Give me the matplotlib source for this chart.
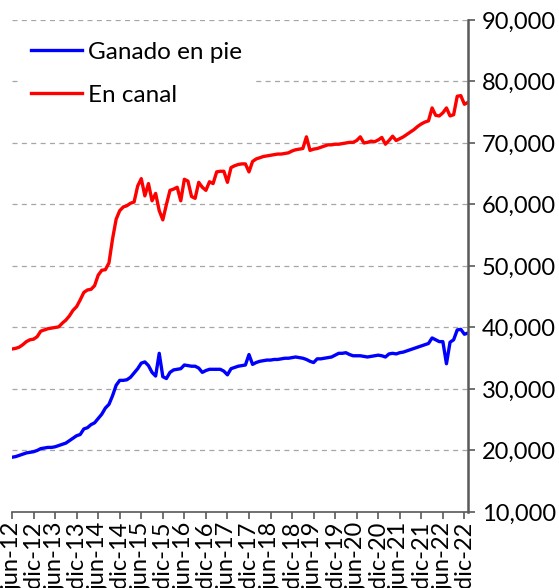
#! /usr/bin/env python
# plot.py
"""Precio de ganado en pie y en canal, jun-12 a ene-23 (mensual)."""

import matplotlib
matplotlib.use('Agg')
import matplotlib.pyplot as plt
from matplotlib.ticker import FuncFormatter

# Etiquetas del eje x (cada 6 meses).
tick_labels = ['jun-12', 'dic-12', 'jun-13', 'dic-13', 'jun-14', 'dic-14',
        'jun-15', 'dic-15', 'jun-16', 'dic-16', 'jun-17', 'dic-17',
        'jun-18', 'dic-18', 'jun-19', 'dic-19', 'jun-20', 'dic-20',
        'jun-21', 'dic-21', 'jun-22', 'dic-22']
# Precio en canal, mensual desde jun-12.
en_canal = [36500, 36600, 36800, 37200, 37700, 38000, 38100, 38500, 39400,
        39600, 39800, 39900, 40000, 40100, 40700, 41200, 41900, 42800, 43400,
        44500, 45700, 46100, 46200, 46800, 48500, 49300, 49400, 50500, 54400,
        57600, 59000, 59600, 59800, 60200, 60400, 63000, 64200, 61400, 63400,
        60600, 61800, 59000, 57500, 60000, 62300, 62500, 62800, 60600, 64100,
        63800, 61300, 61000, 63600, 62800, 62300, 63700, 63400, 65300, 65400,
        65400, 63600, 66000, 66300, 66500, 66600, 66600, 65300, 67000, 67400,
        67600, 67800, 67900, 68000, 68100, 68200, 68200, 68300, 68400, 68700,
        68900, 69000, 69100, 71000, 68800, 69000, 69100, 69300, 69500, 69700,
        69700, 69800, 69800, 69900, 70000, 70100, 70100, 70400, 71000, 70000,
        70100, 70300, 70200, 70500, 70900, 69800, 70400, 71100, 70400, 70700,
        71000, 71400, 71800, 72200, 72700, 73100, 73400, 73600, 75700, 74500,
        74400, 74900, 75700, 74400, 74600, 77600, 77700, 76300, 76600]
# Precio ganado en pie, mensual desde jun-12.
en_pie = [18900, 19000, 19200, 19400, 19600, 19700, 19800, 20000, 20300,
        20400, 20500, 20500, 20600, 20800, 21000, 21200, 21600, 22000, 22400,
        22600, 23500, 23700, 24200, 24500, 25200, 25900, 26900, 27500, 28900,
        30600, 31400, 31400, 31500, 31900, 32600, 33300, 34200, 34400, 33800,
        32700, 32100, 35800, 32000, 31700, 32700, 33100, 33200, 33300, 33900,
        33800, 33700, 33700, 33400, 32700, 33000, 33200, 33200, 33200, 33200,
        32900, 32300, 33300, 33500, 33700, 33800, 33900, 35600, 34000, 34300,
        34500, 34600, 34700, 34700, 34800, 34800, 34900, 35000, 35000, 35100,
        35200, 35100, 35000, 34800, 34500, 34300, 34900, 34900, 35000, 35100,
        35200, 35500, 35800, 35800, 35900, 35600, 35400, 35400, 35400, 35300,
        35200, 35300, 35400, 35500, 35400, 35200, 35700, 35800, 35700, 35900,
        36000, 36200, 36400, 36600, 36800, 37000, 37200, 37400, 38300, 38000,
        37700, 37700, 34100, 37600, 38000, 39600, 39700, 38900, 39100]
y_ticks = [10000, 20000, 30000, 40000, 50000, 60000, 70000, 80000, 90000]

plt.rcParams['font.family'] = ['Lato', 'DejaVu Sans']
axis_grey = '#595959'

fig = plt.figure(figsize=(5.59, 5.88), dpi=100)
ax = fig.add_axes([0.0215, 0.1293, 0.8157, 0.8367])

months = range(len(en_pie))
ax.plot(months, en_pie, color='#0000FF', lw=2.4, label='Ganado en pie',
        solid_joinstyle='round')
ax.plot(months, en_canal, color='#FF0000', lw=2.4, label='En canal',
        solid_joinstyle='round')

# Eje y a la derecha, con separador de miles.
ax.set_ylim(10000, 90000)
ax.set_yticks(y_ticks)
ax.yaxis.tick_right()
ax.yaxis.set_major_formatter(FuncFormatter(lambda v, p: '{:,.0f}'.format(v)))
ax.set_xlim(0, len(en_pie) - 1)
ax.set_xticks(range(0, 6 * len(tick_labels), 6))
ax.set_xticklabels(tick_labels, rotation=90)
ax.tick_params(axis='both', labelsize=17, colors=axis_grey, labelcolor='black',
        direction='out', length=5, width=1.2)
ax.tick_params(axis='y', pad=5)
ax.tick_params(axis='x', pad=2)

# Rejilla discontinua (sin la linea de 10,000).
for v in y_ticks[1:]:
    ax.axhline(v, color='#A6A6A6', lw=0.9, dashes=(4, 3.5), zorder=0)

for side in ['top', 'left']:
    ax.spines[side].set_visible(False)
ax.spines['right'].set_color(axis_grey)
ax.spines['right'].set_linewidth(1.8)
ax.spines['bottom'].set_color(axis_grey)
ax.spines['bottom'].set_linewidth(1.2)

leg = ax.legend(loc='upper left', bbox_to_anchor=(0.005, 0.99), fontsize=17.5,
        frameon=True, framealpha=1, edgecolor='white', facecolor='white',
        handlelength=2.1, handletextpad=0.25, labelspacing=0.9,
        borderaxespad=0.3, fancybox=False)
leg.get_frame().set_linewidth(0)
leg.set_zorder(5)

plt.savefig('out.png', dpi=100)
